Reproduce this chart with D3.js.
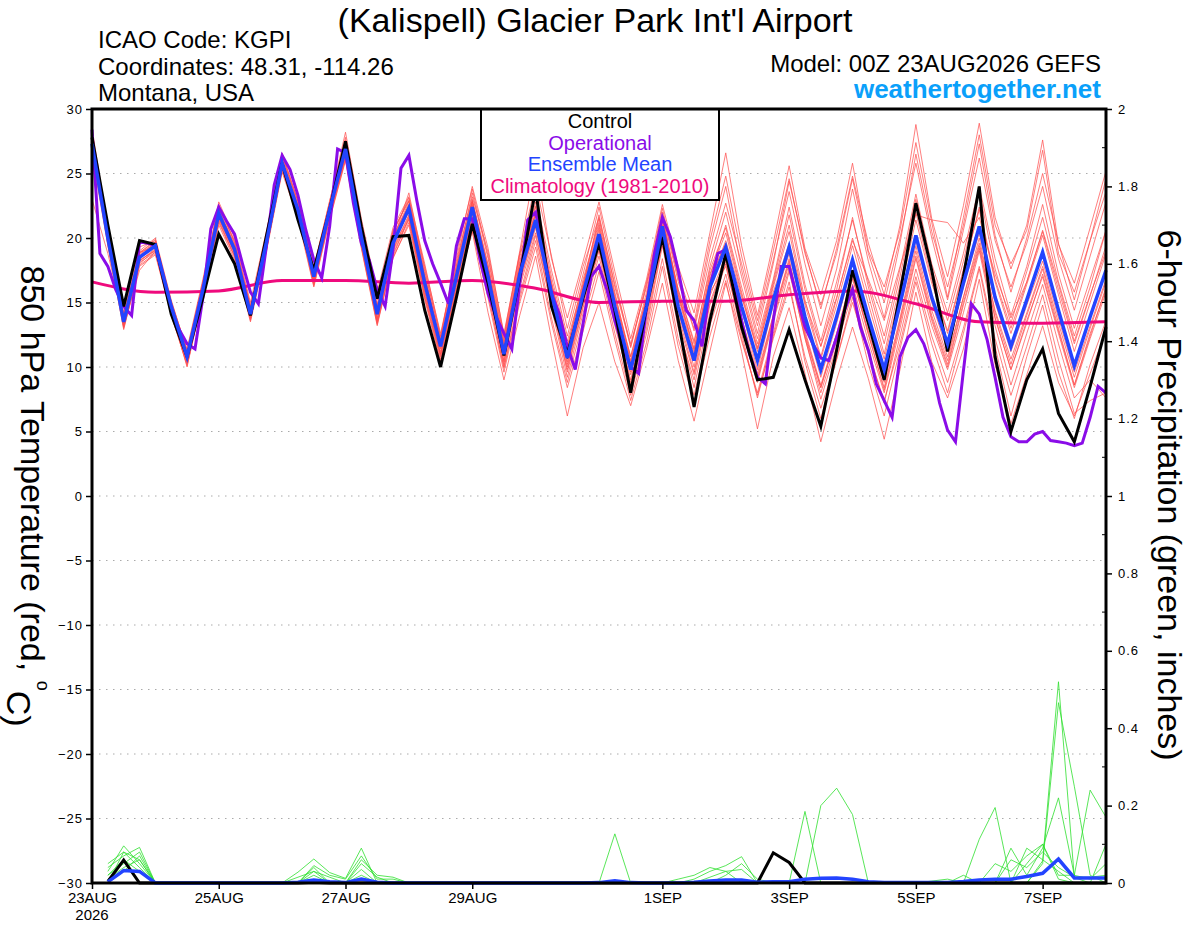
<!DOCTYPE html>
<html>
<head>
<meta charset="utf-8">
<script src="https://cdn.jsdelivr.net/npm/d3@7"></script>
<style>
  body { margin: 0; background: #fff; }
  svg { display: block; font-family: "Liberation Sans", Arial, Helvetica, sans-serif; }
</style>
</head>
<body>
<svg id="chart" width="1200" height="927"></svg>
<script>
// ---- data (6-hourly from 00Z 23AUG2026, hour 0..384) ----
var tempTicks = [-30, -25, -20, -15, -10, -5, 0, 5, 10, 15, 20, 25, 30];
var precipTicks = [0, 0.2, 0.4, 0.6, 0.8, 1, 1.2, 1.4, 1.6, 1.8, 2];
var precipMinor = [0.1, 0.3, 0.5, 0.7, 0.9, 1.1, 1.3, 1.5, 1.7, 1.9];
var dateTickHours = [0, 48, 96, 144, 216, 264, 312, 360];
var dateTickLabels = ["23AUG", "25AUG", "27AUG", "29AUG", "1SEP", "3SEP", "5SEP", "7SEP"];

// ensemble mean 850 hPa temperature
var meanTemp = [27.3, 20.0, 13.5, 18.5, 19.4, 14.7, 10.8, 16.0, 21.9, 19.1,
  14.1, 19.6, 25.8, 22.2, 17.0, 22.2, 26.9, 20.1, 14.1, 19.6,
  22.3, 16.5, 11.6, 17.0, 22.4, 17.0, 11.0, 17.2, 21.4, 15.7,
  10.7, 15.7, 20.3, 14.7, 9.8, 14.7, 20.9, 14.7, 10.5, 16.2,
  19.3, 14.7, 10.5, 15.2, 19.3, 13.9, 9.8, 13.9, 18.3, 13.9,
  9.8, 14.9, 20.2, 15.4, 11.8, 16.5, 20.9, 15.4, 11.6, 15.2,
  18.9, 14.4, 10.1, 13.9, 17.5];

// control run
var controlTemp = [27.8, 21.0, 14.7, 19.8, 19.5, 14.1, 10.8, 15.4, 20.3, 18.0,
  14.0, 20.1, 25.8, 21.4, 17.5, 22.2, 27.5, 20.9, 15.3, 20.1,
  20.2, 14.4, 10.0, 15.4, 21.1, 16.5, 10.9, 17.0, 23.8, 14.7,
  11.0, 15.4, 19.6, 14.4, 8.0, 14.7, 20.1, 13.6, 6.9, 13.6,
  18.8, 13.1, 9.0, 9.2, 12.9, 9.0, 5.4, 11.3, 17.5, 13.4,
  9.0, 15.7, 22.7, 17.5, 11.2, 17.0, 24.0, 10.8, 5.0, 9.0,
  11.4, 6.4, 4.2, 8.5, 13.1];

// operational run, 3-hourly
var operTemp = [28.4, 18.8, 17.8, 16.0, 14.7, 14.0, 19.7, 19.6, 19.4, 17.0,
  14.4, 12.9, 11.8, 11.4, 15.4, 20.7, 22.4, 21.3, 20.3, 18.0,
  15.8, 14.9, 19.3, 24.1, 26.4, 25.3, 23.3, 20.6, 18.3, 16.9,
  20.9, 26.9, 26.6, 22.7, 19.6, 18.3, 16.0, 14.7, 19.1, 25.4,
  26.4, 22.9, 19.8, 18.0, 16.5, 14.9, 19.4, 21.5, 21.5, 18.3,
  15.7, 13.9, 12.6, 11.4, 16.5, 21.4, 22.0, 18.8, 15.7, 14.1,
  11.6, 9.8, 13.4, 17.0, 17.8, 16.0, 13.6, 11.6, 10.0, 9.5,
  14.7, 18.8, 21.6, 20.1, 17.5, 14.4, 13.6, 11.6, 16.2, 18.8,
  19.1, 16.7, 13.6, 11.0, 9.2, 8.7, 13.6, 17.8, 17.8, 15.4,
  13.1, 11.8, 10.7, 10.5, 12.3, 14.4, 16.0, 13.1, 11.3, 8.7,
  7.4, 6.1, 10.8, 12.3, 12.9, 11.8, 10.0, 7.2, 5.1, 4.2,
  9.7, 14.9, 14.1, 12.1, 9.2, 6.1, 4.6, 4.2, 4.2, 4.8,
  5.0, 4.3, 4.2, 4.1, 3.9, 4.1, 6.1, 8.5, 8.0];

// climatology 1981-2010, daily at 00Z
var climTemp = [16.6, 15.8, 15.9, 16.7, 16.7, 16.5, 16.7, 16.1, 15.0, 15.1,
  15.1, 15.6, 15.9, 14.9, 13.5, 13.4, 13.5];

// ensemble members
var member01 = [28.0, 20.5, 13.8, 19.0, 20.0, 15.2, 11.2, 16.5, 22.4, 19.8,
  14.6, 20.2, 26.3, 22.8, 17.6, 22.9, 27.6, 20.9, 14.8, 20.4,
  23.1, 17.4, 12.3, 17.9, 23.5, 18.4, 12.0, 18.5, 23.2, 17.5,
  12.4, 17.2, 22.4, 16.8, 11.5, 16.4, 22.3, 16.9, 12.8, 18.4,
  22.7, 18.0, 13.2, 18.3, 23.6, 18.0, 13.2, 17.6, 23.8, 18.2,
  13.8, 19.6, 26.5, 20.5, 16.2, 21.0, 27.3, 20.2, 15.8, 20.0,
  25.0, 19.6, 15.2, 19.8, 24.6];
var member02 = [26.5, 19.4, 13.0, 17.8, 18.7, 14.0, 10.2, 15.3, 21.0, 18.3,
  13.5, 18.9, 25.1, 21.5, 16.2, 21.4, 26.0, 19.2, 13.2, 18.5,
  21.0, 15.2, 10.4, 15.6, 20.6, 15.3, 9.6, 15.0, 19.3, 13.4,
  8.4, 12.8, 17.4, 12.1, 7.4, 11.9, 17.8, 11.6, 7.3, 12.4,
  16.7, 11.2, 5.2, 10.8, 14.6, 9.5, 4.2, 9.0, 13.1, 9.1,
  4.4, 9.8, 15.8, 10.4, 7.6, 11.4, 16.8, 10.2, 5.6, 9.4,
  13.2, 8.8, 6.2, 9.5, 12.8];
var member03 = [27.5, 19.6, 13.2, 18.0, 19.1, 14.4, 10.5, 16.2, 22.3, 19.4,
  14.3, 19.0, 25.5, 22.6, 17.4, 22.0, 26.5, 19.8, 14.4, 20.0,
  22.8, 17.0, 11.9, 17.8, 23.0, 17.9, 11.6, 18.2, 22.5, 16.2,
  10.2, 15.0, 19.5, 14.0, 9.0, 14.2, 21.5, 16.0, 12.0, 17.5,
  20.8, 15.8, 11.5, 16.4, 21.0, 15.2, 10.8, 15.3, 20.0, 15.6,
  11.0, 16.4, 22.0, 16.8, 12.6, 17.4, 22.4, 16.8, 13.0, 16.6,
  20.5, 16.0, 11.8, 15.5, 19.4];
var member04 = [27.8, 20.3, 14.2, 19.3, 19.8, 15.0, 11.0, 16.3, 21.6, 18.8,
  13.8, 19.9, 26.2, 22.0, 16.7, 22.5, 27.2, 20.5, 14.5, 19.2,
  21.8, 15.8, 11.0, 16.4, 21.8, 16.3, 10.2, 16.5, 20.8, 15.0,
  10.0, 15.2, 19.8, 14.3, 9.4, 14.0, 20.2, 14.0, 9.6, 15.5,
  18.6, 13.8, 9.5, 14.0, 18.4, 12.8, 8.6, 12.6, 17.0, 12.5,
  8.4, 13.6, 19.0, 14.0, 10.5, 15.4, 20.0, 14.2, 10.2, 14.0,
  17.6, 13.0, 8.6, 12.4, 16.2];
var member05 = [23.0, 18.8, 13.6, 18.8, 19.6, 15.0, 11.4, 16.8, 22.6, 19.6,
  14.8, 19.3, 25.4, 21.8, 16.5, 21.8, 26.6, 20.0, 14.0, 19.5,
  22.6, 16.8, 12.0, 17.4, 22.9, 17.4, 11.4, 17.6, 22.0, 16.5,
  11.5, 16.8, 21.2, 15.6, 10.8, 15.8, 21.8, 15.8, 11.4, 17.2,
  20.4, 15.6, 11.2, 16.2, 20.5, 14.8, 10.6, 14.8, 19.4, 14.9,
  10.6, 15.8, 21.4, 16.5, 12.8, 17.6, 22.2, 16.6, 12.6, 16.4,
  20.2, 15.6, 11.2, 15.0, 18.8];
var member06 = [27.0, 20.2, 13.4, 18.3, 19.0, 14.6, 10.9, 15.8, 21.8, 19.0,
  14.0, 19.8, 26.0, 22.3, 16.8, 22.3, 27.0, 20.3, 14.6, 20.2,
  22.5, 16.3, 11.5, 16.8, 22.2, 17.2, 11.8, 18.0, 22.8, 17.0,
  12.0, 16.5, 21.5, 15.8, 10.5, 15.3, 22.0, 16.6, 13.0, 19.2,
  24.0, 17.5, 12.6, 18.0, 24.4, 19.0, 14.5, 19.2, 24.8, 19.6,
  15.6, 21.0, 28.8, 21.5, 17.0, 22.5, 28.9, 21.6, 17.6, 21.0,
  27.6, 19.5, 16.5, 20.8, 25.2];
var member07 = [27.2, 19.8, 13.3, 18.6, 19.5, 14.5, 10.6, 15.9, 21.7, 19.2,
  14.2, 19.5, 25.6, 22.0, 17.2, 22.0, 26.7, 19.9, 13.8, 19.0,
  21.5, 15.4, 10.8, 16.0, 20.5, 14.2, 9.0, 14.0, 18.6, 12.2,
  6.2, 11.5, 15.0, 10.4, 7.0, 11.4, 16.5, 10.5, 5.8, 11.2,
  16.5, 12.0, 8.0, 12.6, 17.4, 12.3, 7.5, 11.6, 15.8, 11.3,
  7.2, 12.4, 17.6, 13.2, 9.8, 14.2, 19.0, 13.2, 8.6, 12.6,
  16.4, 11.8, 7.6, 9.0, 7.6];
var member08 = [28.5, 20.8, 14.0, 18.2, 19.2, 14.2, 10.3, 16.4, 22.8, 20.0,
  15.0, 20.5, 26.6, 22.8, 17.8, 22.8, 28.2, 21.5, 15.8, 20.8,
  23.2, 18.0, 12.4, 18.4, 24.0, 19.2, 12.4, 19.0, 25.8, 18.4,
  13.8, 18.2, 22.8, 17.4, 12.2, 16.8, 22.6, 17.8, 14.2, 20.4,
  26.6, 19.4, 14.0, 19.6, 25.6, 19.2, 15.6, 19.8, 25.8, 19.0,
  16.2, 20.6, 27.4, 21.2, 15.4, 21.6, 28.0, 21.0, 18.0, 20.6,
  26.8, 18.8, 15.8, 19.8, 23.6];
var member09 = [27.6, 20.1, 13.7, 18.9, 19.3, 14.9, 11.1, 16.1, 22.0, 18.9,
  13.9, 19.4, 25.9, 22.4, 16.9, 22.1, 27.1, 20.0, 14.3, 19.7,
  22.0, 16.6, 11.4, 17.2, 22.5, 16.8, 10.8, 16.6, 21.0, 15.2,
  9.6, 14.6, 19.0, 13.6, 8.2, 13.0, 19.4, 13.4, 8.4, 14.2,
  18.0, 12.6, 7.6, 12.4, 16.6, 10.4, 6.0, 10.6, 15.4, 10.2,
  6.2, 11.4, 16.6, 11.8, 8.0, 12.6, 17.6, 11.6, 6.2, 10.8,
  14.8, 9.6, 6.0, 10.2, 13.6];
var member10 = [27.4, 19.9, 13.9, 18.4, 19.7, 14.8, 10.7, 16.0, 21.9, 19.3,
  14.4, 19.7, 25.7, 22.1, 17.1, 22.4, 26.8, 20.2, 14.2, 19.4,
  22.4, 16.9, 11.8, 17.0, 22.6, 17.6, 11.2, 17.5, 21.8, 16.0,
  11.0, 16.0, 20.8, 15.0, 10.2, 15.2, 21.0, 15.4, 11.0, 16.8,
  19.6, 14.4, 9.8, 14.8, 18.8, 13.6, 9.2, 13.4, 18.0, 13.4,
  9.4, 14.6, 19.8, 15.0, 11.2, 16.2, 20.4, 15.0, 11.2, 14.8,
  18.2, 13.8, 9.6, 13.2, 16.8];
var member11 = [27.1, 20.0, 13.1, 17.5, 19.0, 14.3, 10.0, 15.6, 21.4, 18.6,
  13.6, 19.6, 26.4, 22.6, 17.3, 22.0, 26.4, 19.6, 13.6, 19.8,
  23.5, 17.6, 12.2, 18.8, 23.8, 18.6, 12.2, 18.8, 21.8, 15.4,
  10.6, 16.2, 21.8, 16.2, 11.6, 16.6, 21.2, 16.0, 11.8, 17.8,
  22.0, 17.0, 12.2, 16.8, 22.4, 16.4, 12.0, 16.6, 21.4, 16.6,
  12.4, 17.6, 23.4, 18.0, 14.2, 18.8, 24.0, 18.4, 14.0, 17.8,
  22.6, 17.2, 13.0, 16.8, 20.6];
var member12 = [27.9, 20.6, 13.4, 18.6, 19.4, 14.6, 10.8, 16.1, 21.5, 18.9,
  14.0, 19.2, 25.2, 21.8, 16.6, 21.6, 26.3, 19.4, 13.5, 18.8,
  21.4, 15.9, 11.2, 16.7, 22.0, 16.5, 10.5, 16.9, 21.2, 15.5,
  10.4, 15.4, 20.0, 14.2, 9.6, 14.4, 20.5, 14.3, 10.0, 15.8,
  17.8, 13.0, 8.8, 13.6, 17.6, 12.2, 8.0, 12.0, 16.4, 12.0,
  8.0, 13.0, 18.4, 13.6, 10.0, 14.8, 19.2, 13.8, 9.8, 13.6,
  17.0, 12.6, 8.4, 12.2, 15.8];
var member13 = [27.6, 20.4, 13.9, 18.9, 19.7, 15.0, 11.0, 16.6, 22.2, 19.5,
  14.6, 20.0, 26.1, 22.5, 17.5, 22.6, 27.4, 20.7, 14.8, 20.6,
  22.9, 17.2, 11.9, 17.7, 22.8, 17.9, 11.9, 17.8, 22.4, 16.6,
  11.6, 16.2, 20.6, 15.2, 10.8, 15.4, 21.4, 15.6, 11.2, 16.6,
  19.8, 15.4, 11.4, 15.8, 19.6, 15.0, 11.6, 15.4, 19.8, 16.8,
  13.6, 17.8, 21.8, 21.4, 21.2, 19.6, 21.6, 17.2, 13.8, 16.6,
  20.6, 16.4, 12.0, 15.6, 19.0];
var member14 = [26.8, 19.6, 13.3, 18.1, 18.9, 14.1, 10.1, 15.5, 21.2, 18.5,
  13.7, 19.1, 25.3, 21.9, 16.4, 21.7, 26.2, 19.5, 13.4, 18.4,
  21.2, 15.6, 10.9, 16.2, 21.4, 15.8, 10.0, 15.6, 20.2, 14.6,
  9.2, 14.2, 18.6, 13.2, 8.6, 13.4, 19.6, 13.0, 9.0, 14.8,
  18.2, 13.4, 9.0, 13.8, 18.0, 12.4, 8.4, 12.4, 16.8, 12.8,
  8.8, 13.8, 19.4, 14.4, 10.8, 15.4, 19.6, 14.4, 10.6, 14.2,
  17.8, 13.4, 9.2, 13.0, 16.6];
var member15 = [27.7, 20.2, 13.6, 18.7, 19.6, 14.9, 10.9, 16.2, 22.1, 19.3,
  14.3, 19.8, 26.0, 22.4, 17.2, 22.4, 27.1, 20.4, 14.4, 19.9,
  22.6, 16.9, 11.8, 17.3, 22.8, 17.5, 11.4, 17.8, 22.0, 16.4,
  11.4, 16.4, 21.0, 15.4, 10.4, 15.4, 21.6, 15.6, 11.4, 17.0,
  21.0, 16.2, 11.8, 16.6, 21.8, 16.0, 11.6, 16.0, 21.6, 16.2,
  11.8, 17.0, 23.0, 17.6, 13.6, 18.2, 23.6, 17.6, 13.4, 17.4,
  21.6, 16.6, 12.4, 16.2, 20.6];
var member16 = [27.0, 19.7, 13.2, 18.2, 19.1, 14.4, 10.5, 15.7, 21.6, 18.8,
  13.9, 19.3, 25.5, 21.9, 16.7, 21.9, 26.5, 19.7, 13.7, 19.1,
  21.7, 15.9, 11.0, 16.4, 21.6, 16.2, 10.4, 16.2, 20.4, 14.8,
  9.8, 14.8, 19.2, 13.8, 8.8, 13.8, 19.8, 13.6, 9.4, 15.0,
  18.4, 13.6, 9.2, 14.0, 18.2, 12.6, 8.4, 12.6, 17.2, 12.6,
  8.2, 13.4, 18.6, 13.8, 10.2, 15.0, 19.4, 13.8, 9.8, 13.4,
  17.2, 12.8, 8.6, 12.6, 16.0];
var member17 = [28.2, 20.6, 14.1, 18.8, 19.9, 15.1, 11.3, 16.6, 22.5, 19.7,
  14.7, 20.3, 26.5, 22.9, 17.7, 22.7, 27.8, 21.1, 15.2, 20.5,
  22.9, 17.8, 12.6, 18.2, 23.2, 18.9, 12.6, 18.8, 24.2, 18.6,
  13.0, 17.8, 21.6, 16.4, 11.8, 16.2, 21.8, 17.2, 13.4, 19.8,
  24.8, 18.6, 13.6, 19.0, 24.6, 18.8, 14.8, 18.8, 24.6, 18.8,
  15.0, 20.0, 25.8, 20.0, 15.2, 20.6, 26.2, 19.8, 16.2, 19.6,
  24.0, 18.4, 14.4, 18.6, 22.8];
var member18 = [26.9, 19.5, 12.9, 17.9, 18.8, 14.2, 10.4, 15.4, 21.3, 18.6,
  13.8, 19.0, 25.4, 21.7, 16.3, 21.5, 26.1, 19.3, 13.3, 18.6,
  21.6, 15.4, 10.6, 15.9, 21.0, 15.6, 9.9, 15.3, 19.8, 13.8,
  8.8, 13.6, 18.0, 12.6, 7.8, 12.6, 18.4, 12.2, 7.8, 13.2,
  17.2, 12.2, 7.8, 12.2, 16.2, 10.8, 6.8, 10.6, 15.0, 11.0,
  7.4, 11.8, 17.0, 12.4, 8.8, 13.0, 17.8, 12.2, 7.8, 11.6,
  15.6, 10.6, 6.4, 7.4, 8.0];

// 6-hour precipitation (inches), hour 6..384
var meanPrecip = [0.003, 0.032, 0.03, 0, 0, 0, 0, 0,
  0, 0, 0, 0, 0.002, 0.008, 0.003, 0.001,
  0.01, 0.002, 0, 0, 0, 0, 0, 0,
  0, 0, 0, 0, 0, 0, 0, 0.001,
  0.006, 0.001, 0, 0, 0, 0.002, 0.005, 0.008,
  0.008, 0.002, 0.003, 0.003, 0.01, 0.012, 0.013, 0.01,
  0.003, 0.001, 0.001, 0.001, 0.001, 0.001, 0.004, 0.008,
  0.01, 0.01, 0.017, 0.025, 0.062, 0.013, 0.013, 0.013];
var controlPrecip = [0.004, 0.059, 0, 0, 0, 0, 0, 0,
  0, 0, 0, 0, 0, 0.002, 0, 0,
  0, 0, 0, 0, 0, 0, 0, 0,
  0, 0, 0, 0, 0, 0, 0, 0,
  0, 0, 0, 0, 0, 0, 0, 0,
  0, 0, 0.078, 0.053, 0, 0, 0, 0,
  0, 0, 0, 0, 0, 0, 0, 0,
  0, 0, 0, 0, 0, 0, 0, 0];
var memberPrecip1 = [0.03, 0.096, 0.05, 0, 0, 0, 0, 0,
  0, 0, 0, 0, 0.028, 0.062, 0.027, 0.012,
  0.09, 0, 0, 0, 0, 0, 0, 0,
  0, 0, 0, 0, 0, 0, 0, 0,
  0.127, 0, 0, 0, 0, 0, 0, 0,
  0, 0, 0, 0, 0.185, 0, 0, 0,
  0, 0, 0, 0, 0, 0, 0, 0.113,
  0.195, 0, 0, 0, 0, 0, 0, 0];
var memberPrecip2 = [0.04, 0.07, 0.092, 0, 0, 0, 0, 0,
  0, 0, 0, 0, 0, 0.045, 0.02, 0.01,
  0.07, 0.01, 0.01, 0, 0, 0, 0, 0,
  0, 0, 0, 0, 0, 0, 0, 0,
  0, 0, 0, 0, 0, 0.01, 0.03, 0.045,
  0.068, 0, 0, 0, 0, 0.2, 0.245, 0.177,
  0, 0, 0, 0, 0, 0, 0, 0,
  0, 0, 0, 0.057, 0.52, 0.014, 0, 0];
var memberPrecip3 = [0.02, 0.06, 0.03, 0, 0, 0, 0, 0,
  0, 0, 0, 0, 0, 0.03, 0.015, 0,
  0.05, 0.015, 0, 0, 0, 0, 0, 0,
  0, 0, 0, 0, 0, 0, 0, 0,
  0, 0, 0, 0, 0, 0, 0.015, 0.03,
  0.035, 0, 0, 0, 0, 0, 0, 0,
  0, 0, 0, 0, 0.005, 0.01, 0, 0,
  0, 0, 0, 0.05, 0.466, 0.25, 0.02, 0];
var memberPrecip4 = [0.01, 0.04, 0.06, 0, 0, 0, 0, 0,
  0, 0, 0, 0, 0, 0.02, 0, 0,
  0.035, 0, 0, 0, 0, 0, 0, 0,
  0, 0, 0, 0, 0, 0, 0, 0,
  0, 0, 0, 0, 0, 0, 0, 0.02,
  0.05, 0.01, 0, 0, 0, 0, 0, 0,
  0, 0, 0, 0, 0, 0, 0, 0,
  0, 0.09, 0.02, 0.09, 0.22, 0.02, 0.24, 0.17];
var memberPrecip5 = [0.05, 0.08, 0.04, 0, 0, 0, 0, 0,
  0, 0, 0, 0, 0.015, 0.03, 0, 0,
  0, 0, 0, 0, 0, 0, 0, 0,
  0, 0, 0, 0, 0, 0, 0, 0,
  0, 0, 0, 0, 0, 0, 0, 0,
  0, 0, 0, 0, 0, 0, 0, 0,
  0, 0, 0, 0, 0, 0, 0.02, 0,
  0, 0, 0.09, 0.06, 0.03, 0, 0, 0.1];
var memberPrecip6 = [0, 0.03, 0.07, 0, 0, 0, 0, 0,
  0, 0, 0, 0, 0, 0, 0, 0,
  0.06, 0.02, 0.015, 0, 0, 0, 0, 0,
  0, 0, 0, 0, 0, 0, 0, 0,
  0, 0, 0, 0, 0.01, 0.02, 0.04, 0.03,
  0, 0, 0, 0, 0, 0, 0, 0,
  0, 0, 0, 0, 0, 0, 0, 0,
  0.05, 0.03, 0.07, 0.1, 0.02, 0.02, 0.01, 0.05];
var memberPrecip7 = [0.02, 0.05, 0.08, 0, 0, 0, 0, 0,
  0, 0, 0, 0, 0, 0.04, 0, 0,
  0, 0, 0, 0, 0, 0, 0, 0,
  0, 0, 0, 0, 0, 0, 0, 0,
  0, 0, 0, 0, 0, 0, 0, 0,
  0, 0, 0, 0, 0, 0, 0, 0,
  0, 0, 0, 0, 0, 0, 0, 0,
  0, 0.06, 0.04, 0.08, 0.04, 0.015, 0.015, 0.02];
var memberPrecip8 = [0, 0.08, 0.06, 0, 0, 0, 0, 0,
  0, 0, 0, 0, 0, 0, 0, 0,
  0.02, 0, 0, 0, 0, 0, 0, 0,
  0, 0, 0, 0, 0, 0, 0, 0,
  0, 0, 0, 0, 0, 0, 0, 0,
  0, 0, 0, 0, 0, 0, 0, 0,
  0, 0, 0, 0, 0, 0, 0, 0,
  0, 0, 0.05, 0.1, 0.01, 0, 0, 0];

var memberTemps = [member01, member02, member03, member04, member05, member06, member07,
  member08, member09, member10, member11, member12, member13, member14, member15,
  member16, member17, member18];
var memberPrecips = [memberPrecip1, memberPrecip2, memberPrecip3, memberPrecip4,
  memberPrecip5, memberPrecip6, memberPrecip7, memberPrecip8];

// ---- drawing ----
var svg = d3.select("#chart");
var plotLeft = 92, plotRight = 1106, plotTop = 109, plotBottom = 883;

var x = d3.scaleLinear().domain([0, 384]).range([plotLeft, plotRight]);
var yT = d3.scaleLinear().domain([-30, 30]).range([plotBottom, plotTop]);
var yP = d3.scaleLinear().domain([0, 2]).range([plotBottom, plotTop]);

svg.append("rect").attr("width", 1200).attr("height", 927).attr("fill", "#fff");

// dotted grid every 5 degrees
svg.append("g")
  .selectAll("line")
  .data(tempTicks.filter(function(t) { return t > -30 && t < 30; }))
  .join("line")
  .attr("x1", plotLeft).attr("x2", plotRight)
  .attr("y1", function(d) { return yT(d); })
  .attr("y2", function(d) { return yT(d); })
  .attr("stroke", "#aaa")
  .attr("stroke-width", 1)
  .attr("stroke-dasharray", "1.5,5.5");

var line6 = d3.line().x(function(d, i) { return x(i * 6); }).y(function(d) { return yT(d); });
var line3 = d3.line().x(function(d, i) { return x(i * 3); }).y(function(d) { return yT(d); });
var lineClim = d3.line().x(function(d, i) { return x(i * 24); }).y(function(d) { return yT(d); })
  .curve(d3.curveMonotoneX);
var lineP = d3.line().x(function(d, i) { return x((i + 1) * 6); }).y(function(d) { return yP(d); });

// red members
svg.append("g").selectAll("path")
  .data(memberTemps).join("path")
  .attr("d", line6)
  .attr("fill", "none")
  .attr("stroke", "#ff4d4d")
  .attr("stroke-width", 0.8)
  .attr("stroke-opacity", 0.9);

// green precipitation members
svg.append("g").selectAll("path")
  .data(memberPrecips).join("path")
  .attr("d", lineP)
  .attr("fill", "none")
  .attr("stroke", "#2fe02f")
  .attr("stroke-width", 0.8);

// climatology
svg.append("path").datum(climTemp)
  .attr("d", lineClim).attr("fill", "none")
  .attr("stroke", "#ef0a7d").attr("stroke-width", 3);

// operational
svg.append("path").datum(operTemp)
  .attr("d", line3).attr("fill", "none")
  .attr("stroke", "#8a0ce8").attr("stroke-width", 3);

// control temp + precip
svg.append("path").datum(controlTemp)
  .attr("d", line6).attr("fill", "none")
  .attr("stroke", "#000").attr("stroke-width", 3);
svg.append("path").datum(controlPrecip)
  .attr("d", lineP).attr("fill", "none")
  .attr("stroke", "#000").attr("stroke-width", 3);

// ensemble mean temp + precip
svg.append("path").datum(meanTemp)
  .attr("d", line6).attr("fill", "none")
  .attr("stroke", "#2344ff").attr("stroke-width", 3.5);
svg.append("path").datum(meanPrecip)
  .attr("d", lineP).attr("fill", "none")
  .attr("stroke", "#2344ff").attr("stroke-width", 3.5);

// legend box
var legend = svg.append("g");
legend.append("rect")
  .attr("x", 481).attr("y", plotTop).attr("width", 238).attr("height", 91)
  .attr("fill", "#fff").attr("stroke", "#000").attr("stroke-width", 2);
var legendItems = [["Control", "#000"], ["Operational", "#8a0ce8"],
  ["Ensemble Mean", "#2344ff"], ["Climatology (1981-2010)", "#ef0a7d"]];
legend.selectAll("text").data(legendItems).join("text")
  .attr("x", 600)
  .attr("y", function(d, i) { return 128 + i * 21.5; })
  .attr("text-anchor", "middle")
  .attr("font-size", 20)
  .attr("fill", function(d) { return d[1]; })
  .text(function(d) { return d[0]; });

// axes
var yAxisL = d3.axisLeft(yT).tickValues(tempTicks).tickSize(6).tickPadding(3)
  .tickFormat(d3.format("d"));
var gL = svg.append("g").attr("transform", "translate(" + plotLeft + ",0)").call(yAxisL);

var yAxisR = d3.axisRight(yP).tickValues(precipTicks).tickSize(6).tickPadding(6)
  .tickFormat(function(d) { return d3.format("~g")(d); });
var gR = svg.append("g").attr("transform", "translate(" + plotRight + ",0)").call(yAxisR);
svg.append("g").selectAll("line").data(precipMinor).join("line")
  .attr("x1", plotRight - 4).attr("x2", plotRight)
  .attr("y1", function(d) { return yP(d); }).attr("y2", function(d) { return yP(d); })
  .attr("stroke", "#000").attr("stroke-width", 1);

var xAxis = d3.axisBottom(x).tickValues(dateTickHours).tickSize(6).tickPadding(3)
  .tickFormat(function(d, i) { return dateTickLabels[i]; });
var gX = svg.append("g").attr("transform", "translate(0," + plotBottom + ")").call(xAxis);

[gL, gR, gX].forEach(function(g) {
  g.select(".domain").remove();
  g.selectAll(".tick line").attr("stroke", "#000").attr("stroke-width", 1.5);
  g.selectAll("text").attr("fill", "#000").attr("font-family", "Liberation Sans, Arial, sans-serif");
});
gL.selectAll("text").attr("font-size", 13).attr("letter-spacing", 1);
gR.selectAll("text").attr("font-size", 13).attr("letter-spacing", 1);
gX.selectAll("text").attr("font-size", 15);

svg.append("text")
  .attr("x", x(0)).attr("y", 920)
  .attr("text-anchor", "middle").attr("font-size", 15)
  .text("2026");

// frame
svg.append("rect")
  .attr("x", plotLeft).attr("y", plotTop)
  .attr("width", plotRight - plotLeft).attr("height", plotBottom - plotTop)
  .attr("fill", "none").attr("stroke", "#000").attr("stroke-width", 3);

// titles
svg.append("text")
  .attr("x", 595).attr("y", 32).attr("text-anchor", "middle")
  .attr("font-size", 34)
  .text("(Kalispell) Glacier Park Int'l Airport");

var info = ["ICAO Code: KGPI", "Coordinates: 48.31, -114.26", "Montana, USA"];
svg.append("g").selectAll("text").data(info).join("text")
  .attr("x", 98).attr("y", function(d, i) { return 48 + i * 26.5; })
  .attr("font-size", 24)
  .text(function(d) { return d; });

svg.append("text")
  .attr("x", 1101).attr("y", 72).attr("text-anchor", "end")
  .attr("font-size", 24)
  .text("Model: 00Z 23AUG2026 GEFS");
svg.append("text")
  .attr("x", 1101).attr("y", 98).attr("text-anchor", "end")
  .attr("font-size", 26).attr("font-weight", "bold").attr("fill", "#0aa0fa")
  .text("weathertogether.net");

// axis titles
var lt = svg.append("text")
  .attr("transform", "translate(33,496) rotate(90)")
  .attr("text-anchor", "middle").attr("dy", "0.35em")
  .attr("font-size", 34);
lt.append("tspan").text("850 hPa Temperature (red, ");
lt.append("tspan").attr("font-size", 18).attr("dy", "-0.9em").text("o");
lt.append("tspan").attr("dy", "0.9em").text("C)");

svg.append("text")
  .attr("transform", "translate(1170,495) rotate(90)")
  .attr("text-anchor", "middle").attr("dy", "0.35em")
  .attr("font-size", 34)
  .text("6-hour Precipitation (green, inches)");
</script>
</body>
</html>
